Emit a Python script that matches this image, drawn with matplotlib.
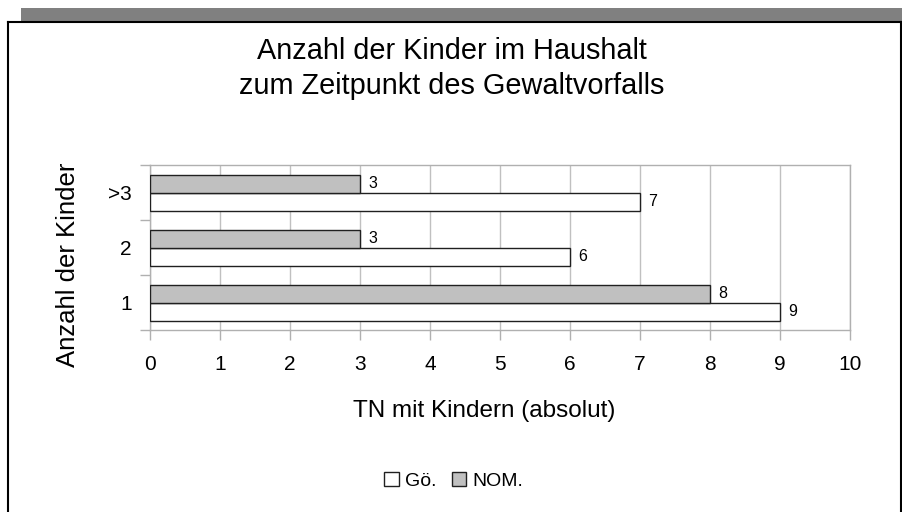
import matplotlib
matplotlib.use("Agg")
import matplotlib.pyplot as plt
from matplotlib.patches import Rectangle
from matplotlib.lines import Line2D
import numpy as np

plt.rcParams['font.family'] = ['Liberation Sans', 'DejaVu Sans']

categories = ["1", "2", ">3"]
series_names = ["Gö.", "NOM."]
goe_values = [9, 6, 7]
nom_values = [8, 3, 3]
x_ticks = list(range(0, 11))

W, H = 903, 512
fig = plt.figure(figsize=(W / 100, H / 100), dpi=100)

# decorative frame
fig.add_artist(Rectangle((21 / W, 1 - 21 / H), (W - 21) / W, 13 / H,
                         transform=fig.transFigure, color="#808080", lw=0))
fig.add_artist(Line2D([7.5 / W, 7.5 / W], [0, 1 - 21.5 / H], transform=fig.transFigure, color="black", lw=1.5))
fig.add_artist(Line2D([7.5 / W, 901.5 / W], [1 - 21.5 / H, 1 - 21.5 / H], transform=fig.transFigure, color="black", lw=1.5))
fig.add_artist(Line2D([901.5 / W, 901.5 / W], [0, 1 - 21.5 / H], transform=fig.transFigure, color="black", lw=1.5))

ax = fig.add_axes([150 / W, 1 - 330 / H, 700 / W, 165 / H])

y = np.arange(len(categories))
bh = 18 / 55
b1 = ax.barh(y - bh / 2, goe_values, height=bh, color="white", edgecolor="#202020", lw=1.0,
             label=series_names[0], zorder=3)
b2 = ax.barh(y + bh / 2, nom_values, height=bh, color="#c0c0c0", edgecolor="#202020", lw=1.0,
             label=series_names[1], zorder=3)

for yy, v in zip(y - bh / 2, goe_values):
    ax.annotate(str(v), (v, yy), xytext=(8, 0), textcoords="offset pixels",
                ha="left", va="center", fontsize=11.5)
for yy, v in zip(y + bh / 2, nom_values):
    ax.annotate(str(v), (v, yy), xytext=(8, 0), textcoords="offset pixels",
                ha="left", va="center", fontsize=11.5)

ax.set_xlim(0, 10)
ax.set_ylim(-0.5, 2.5)
ax.set_xticks(x_ticks)
ax.set_xticklabels([str(t) for t in x_ticks], fontsize=15)
ax.grid(axis="x", color="#c0c0c0", lw=1.0, zorder=0)
ax.set_yticks([-0.5, 0.5, 1.5, 2.5])
ax.set_yticklabels([])
ax.set_yticks(y, minor=True)
ax.set_yticklabels(categories, minor=True, fontsize=15)
ax.tick_params(axis="y", which="major", length=7.2, color="#b0b0b0", width=1)
ax.tick_params(axis="y", which="minor", length=0, pad=13)
ax.tick_params(axis="x", which="major", length=7.2, color="#b0b0b0", width=1, pad=11)
for s in ax.spines.values():
    s.set_color("#b0b0b0")
    s.set_linewidth(1.0)

fig.text(452 / W, 1 - 68.5 / H, "Anzahl der Kinder im Haushalt\nzum Zeitpunkt des Gewaltvorfalls",
         ha="center", va="center", fontsize=20.8, linespacing=1.3)
fig.text(68 / W, 1 - 265 / H, "Anzahl der Kinder", rotation=90, ha="center", va="center", fontsize=18.5)
fig.text(484.5 / W, 1 - 411 / H, "TN mit Kindern (absolut)", ha="center", va="center", fontsize=17.5)

fig.legend(handles=[b1, b2], labels=series_names, loc="center", bbox_to_anchor=(453.5 / W, 1 - 481 / H),
           ncol=2, frameon=False, fontsize=14, handlelength=0.75, handleheight=0.75,
           handletextpad=0.3, columnspacing=0.8)

fig.savefig("out.png", dpi=100)
